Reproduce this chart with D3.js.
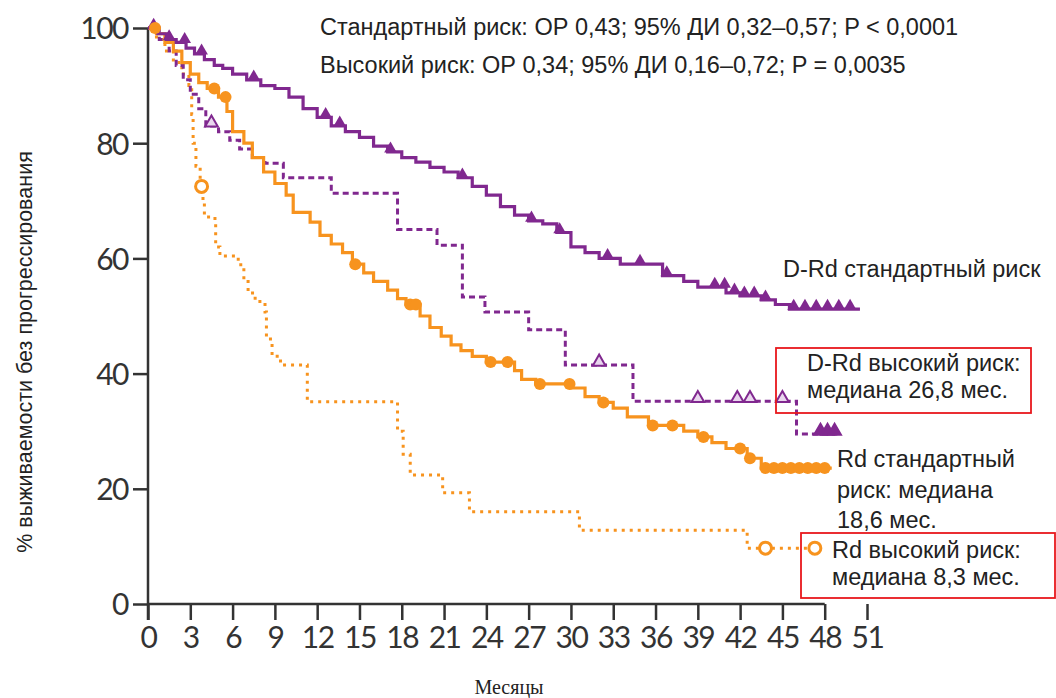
<!DOCTYPE html>
<html>
<head>
<meta charset="utf-8">
<script src="https://cdn.jsdelivr.net/npm/d3@7"></script>
<style>
	body { margin: 0; background: #fff; }
	svg { display: block; }
</style>
</head>
<body>
<div id="chart"></div>
<script>
// ---- data (months, % progression-free) ----
var monthTicks = [0, 3, 6, 9, 12, 15, 18, 21, 24, 27, 30, 33, 36, 39, 42, 45, 48, 51];
var pctTicks = [0, 20, 40, 60, 80, 100];

var drdStandard = [[0,100],[0.7,99],[1.3,98],[2,97.5],[2.7,96.5],[3.3,95.5],[4,94.5],[4.7,93.5],[5.3,93],[6,92],[7,91],[8,90],[9,89.5],[10,88],[11,86],[12,84.5],[13,83],[14,82],[15,81],[16,79.5],[17,78.5],[18,77.5],[19,76.7],[20,75.8],[21,75],[22,74],[23,72.5],[24,71],[25,69],[26,67.5],[27,66.5],[28,66],[29,64.5],[30,62],[31,61],[32,60],[33.5,59],[36.5,57],[38,56],[39,55],[41,54],[42,53.5],[43.5,52.8],[44.5,52],[45.5,51.2],[50.5,51.2]];
var drdStandardCens = [0.4, 1.5, 2.6, 3.8, 7.5, 12.6, 13.6, 17.2, 22.3, 27.2, 29.2, 32.6, 34.9, 36.8, 40.2, 40.9, 41.6, 42.3, 43, 43.8, 45.8, 46.6, 47.4, 48.2, 49, 49.8];

var drdHigh = [[0,100],[0.8,98],[1.5,96],[2,93.5],[2.5,91],[3,88.5],[3.6,86],[4.1,83],[5,82],[5.8,80.5],[6.5,79],[7.4,77.5],[8.3,76.5],[9.6,74],[13,71.3],[17.7,65],[20.5,62.3],[22.3,53.3],[23.9,50.7],[27,47.6],[29.6,41.5],[34.4,35.2],[46,29.5],[48.9,29.5]];
var drdHighCens = [4.5, 32, 39, 41.8, 42.7, 45];
var drdHighCens2 = [47.7, 48.2, 48.7];

var rdStandard = [[0,100],[0.6,99],[1.2,97.5],[1.8,96],[2.4,94],[3,92],[3.6,90.5],[4.2,89.5],[5,88],[5.6,85.5],[6,82],[6.8,80],[7.4,77.5],[8.2,75],[9,73],[9.8,71],[10.3,68],[11.5,66.3],[12.2,64],[13,62.5],[13.8,61],[14.5,59],[15.3,57.5],[16,56],[17,54.5],[17.7,53],[18.3,52],[19.3,50],[20,48],[20.8,46.5],[21.5,45],[22.2,44],[23,43],[24,42],[26,40.5],[26.5,39],[27.5,38.2],[30,37.5],[31,36],[32,35],[33,34],[34,32.5],[35.5,31],[38,30],[39,29],[40,28],[41,27],[42.5,25.3],[43.5,23.6],[48.5,23.6]];
var rdStandardCens = [0.5, 4.7, 5.5, 14.7, 18.6, 19, 24.3, 25.5, 27.8, 29.9, 32.3, 35.8, 37.2, 39.4, 42, 42.7, 43.8, 44.4, 45, 45.6, 46.2, 46.8, 47.4, 48];

var rdHigh = [[0,100],[0.6,98],[1.2,96],[1.8,94],[2.4,92],[2.9,90],[3.1,85],[3.2,80],[3.4,76],[3.7,72.5],[3.9,70],[4,67.2],[4.75,66.5],[4.8,62],[5.1,60.4],[6.4,58.9],[6.8,56],[7.1,54],[7.6,52.5],[8.3,50.7],[8.4,46],[8.8,43],[9.4,41.5],[11.3,35.1],[17.7,30],[18.1,26],[18.6,22.4],[20.9,19.3],[22.8,16],[30.6,12.8],[42.5,9.7],[47.3,9.7]];
var rdHighCens = [3.8, 43.8, 47.3];

var statLines = [
	"Стандартный риск: ОР 0,43; 95% ДИ 0,32–0,57; P < 0,0001",
	"Высокий риск: ОР 0,34; 95% ДИ 0,16–0,72; P = 0,0035"
];

var purple = "#80288f";
var orange = "#f7931e";
var axisColor = "#333";

var width = 1056, height = 698;
var svg = d3.select("#chart").append("svg")
	.attr("width", width)
	.attr("height", height);

var x = d3.scaleLinear().domain([0, 51]).range([148, 867]);
var y = d3.scaleLinear().domain([0, 100]).range([604, 28]);

// step value lookup for censor marks
function valueAt(curve, t) {
	var v = curve[0][1];
	for (var i = 0; i < curve.length; i++) {
		if (curve[i][0] <= t) v = curve[i][1];
	}
	return v;
}

// ---- axes ----
var yAxis = svg.append("g")
	.attr("transform", "translate(" + x(0) + ",0)")
	.call(d3.axisLeft(y).tickValues(pctTicks).tickSize(15).tickPadding(5));
yAxis.select(".domain").remove();
yAxis.append("line")
	.attr("x1", 0).attr("x2", 0)
	.attr("y1", y(100)).attr("y2", y(0) + 16)
	.attr("stroke", axisColor).attr("stroke-width", 2.5);

var xAxis = svg.append("g")
	.attr("transform", "translate(0," + y(0) + ")")
	.call(d3.axisBottom(x).tickValues(monthTicks).tickSize(16).tickPadding(6));
xAxis.select(".domain").remove();
xAxis.append("line")
	.attr("x1", x(0)).attr("x2", x(48))
	.attr("y1", 0).attr("y2", 0)
	.attr("stroke", axisColor).attr("stroke-width", 2.5);

svg.selectAll(".tick line").attr("stroke", axisColor).attr("stroke-width", 2.5);
svg.selectAll(".tick text")
	.attr("fill", axisColor)
	.style("font-family", "Lato, 'Open Sans', sans-serif")
	.style("font-size", "30px")
	.style("letter-spacing", "-1.5px");
xAxis.selectAll(".tick text").attr("dy", "0.72em");
yAxis.selectAll(".tick text").attr("dy", "0.36em");

// ---- curves ----
var line = d3.line()
	.x(function (d) { return x(d[0]); })
	.y(function (d) { return y(d[1]); })
	.curve(d3.curveStepAfter);

var series = [
	{ data: rdHigh, color: orange, dash: "3 5", width: 3 },
	{ data: drdHigh, color: purple, dash: "6 4", width: 3 },
	{ data: rdStandard, color: orange, dash: null, width: 3.2 },
	{ data: drdStandard, color: purple, dash: null, width: 3.2 }
];

var curves = svg.append("g").attr("id", "curves");
series.forEach(function (s) {
	curves.append("path")
		.attr("d", line(s.data))
		.attr("fill", "none")
		.attr("stroke", s.color)
		.attr("stroke-width", s.width)
		.attr("stroke-dasharray", s.dash);
});

// censor marks
var tri = d3.symbol().type(d3.symbolTriangle).size(70);

curves.selectAll(".cens-drd-std")
	.data(drdStandardCens).enter().append("path")
	.attr("d", tri)
	.attr("transform", function (t) { return "translate(" + x(t) + "," + (y(valueAt(drdStandard, t)) - 3) + ")"; })
	.attr("fill", purple);

curves.selectAll(".cens-drd-high")
	.data(drdHighCens.concat(drdHighCens2)).enter().append("path")
	.attr("d", tri)
	.attr("transform", function (t) { return "translate(" + x(t) + "," + (y(valueAt(drdHigh, t)) - 3) + ")"; })
	.attr("fill", function (t) { return t > 47 ? purple : "#e9d6ee"; })
	.attr("stroke", purple)
	.attr("stroke-width", 2);

curves.selectAll(".cens-rd-std")
	.data(rdStandardCens).enter().append("circle")
	.attr("cx", function (t) { return x(t); })
	.attr("cy", function (t) { return y(valueAt(rdStandard, t)); })
	.attr("r", 6)
	.attr("fill", orange);

curves.selectAll(".cens-rd-high")
	.data(rdHighCens).enter().append("circle")
	.attr("cx", function (t) { return x(t); })
	.attr("cy", function (t) { return y(valueAt(rdHigh, t)); })
	.attr("r", 6)
	.attr("fill", "#fff")
	.attr("stroke", orange)
	.attr("stroke-width", 3);

// ---- texts ----
var sans = "'Liberation Sans', Arial, sans-serif";

svg.selectAll(".stat")
	.data(statLines).enter().append("text")
	.attr("x", 320)
	.attr("y", function (d, i) { return 35 + i * 38; })
	.attr("fill", "#222")
	.style("font-family", sans)
	.style("font-size", "23.5px")
	.text(function (d) { return d; });

svg.append("text")
	.attr("transform", "translate(32," + 352 + ") rotate(-90)")
	.attr("text-anchor", "middle")
	.attr("fill", "#222")
	.style("font-family", sans)
	.style("font-size", "21.5px")
	.text("% выживаемости без прогрессирования");

svg.append("text")
	.attr("x", 509)
	.attr("y", 694)
	.attr("text-anchor", "middle")
	.attr("fill", "#222")
	.style("font-family", "'Liberation Serif', 'Times New Roman', serif")
	.style("font-size", "20px")
	.text("Месяцы");

function label(lines, x0, y0, lh) {
	var t = svg.append("text")
		.attr("fill", "#222")
		.style("font-family", sans)
		.style("font-size", "23.5px");
	lines.forEach(function (l, i) {
		t.append("tspan").attr("x", x0).attr("y", y0 + i * lh).text(l);
	});
}

label(["D-Rd стандартный риск"], 783, 277, 0);
label(["D-Rd высокий риск:", "медиана 26,8 мес."], 807, 371, 27);
label(["Rd стандартный", "риск: медиана", "18,6 мес."], 837, 467, 30.5);
label(["Rd высокий риск:", "медиана 8,3 мес."], 832, 558, 27);

svg.append("rect")
	.attr("x", 776).attr("y", 348).attr("width", 255).attr("height", 65)
	.attr("fill", "none").attr("stroke", "#e8181c").attr("stroke-width", 1.8);
svg.append("rect")
	.attr("x", 801).attr("y", 533).attr("width", 254).attr("height", 65)
	.attr("fill", "none").attr("stroke", "#e8181c").attr("stroke-width", 1.8);
</script>
</body>
</html>
